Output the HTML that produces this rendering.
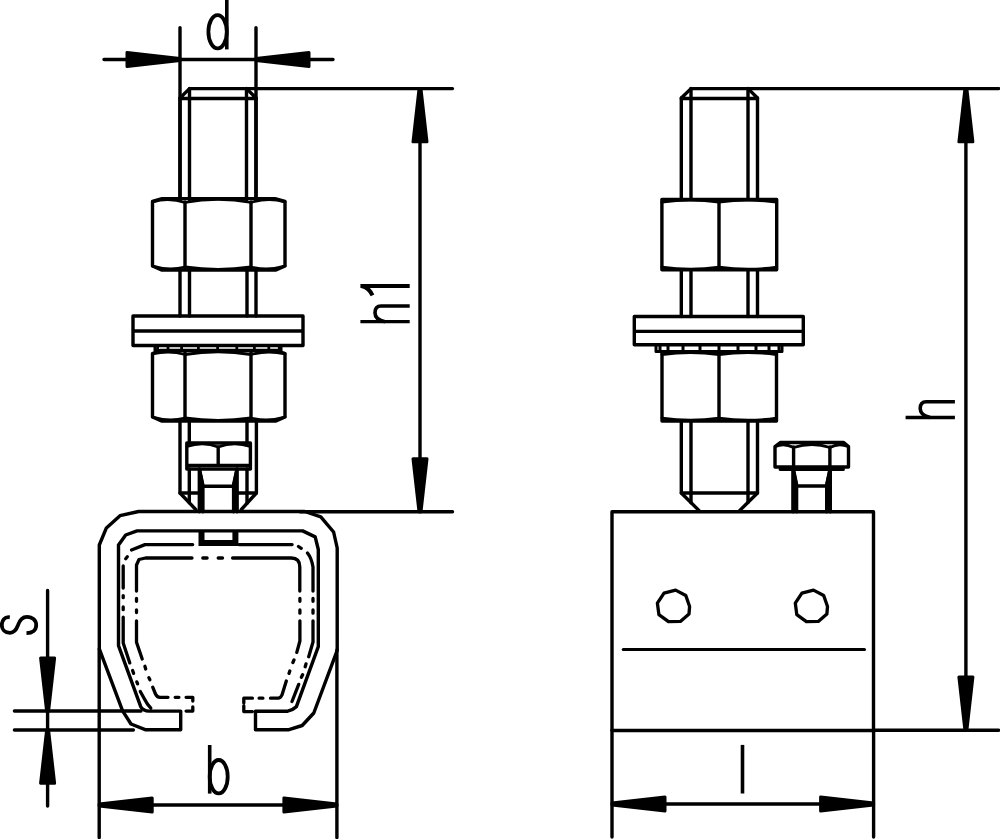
<!DOCTYPE html>
<html><head><meta charset="utf-8">
<style>
html,body{margin:0;padding:0;background:#fff;width:1000px;height:839px;overflow:hidden}
svg{display:block}
text{font-family:"Liberation Sans",sans-serif;font-size:68px;fill:#000}
</style></head>
<body>
<svg width="1000" height="839" viewBox="0 0 1000 839">
<defs>
  <path id="arr" d="M0,-1 L-53,-7 L-53,7 L0,1 Z" fill="#000" stroke="#000" stroke-width="3" stroke-linejoin="round"/>
</defs>
<g fill="none" stroke="#000" stroke-width="3.4" stroke-linecap="round" stroke-linejoin="round">

<!-- ============ LEFT VIEW ============ -->
<g id="bolt">
  <!-- rod top -->
  <path d="M189.5,88.6 L180,98 M246.5,88.6 L256,98 M180,98.5 H256"/>
  <path d="M189.5,88.6 V200 M246.5,88.6 V200 M180,98 V200 M256,98 V200"/>
  <!-- upper nut -->
  <path d="M152.5,201.5 L162,198.6 H275 L285,201.5 V266 L276,270 H161.5 L152.5,266 Z"/>
  <path d="M185,202 V268 M251,202 V268"/>
  <path d="M152.5,201.8 Q169,197 185,202.5 Q218,196 251,202.5 Q268,197 285,201.8" stroke-width="2.8"/>
  <path d="M152.5,266 Q169,271 185,267 Q218,272 251,267 Q268,271 285,266" stroke-width="2.8"/>
  <!-- rod between nut and washer -->
  <path d="M180,270 V316 M189.5,270 V316 M247,270 V316 M256,270 V316"/>
  <!-- washer -->
  <path d="M133,316 H303 V345.5 H133 Z M133,331 H303"/>
  <!-- lock washer -->
  <path d="M155,345.5 V350.5 H281 V345.5" stroke-width="3"/>
  <path d="M157.6,345.5 V350 M168,345.5 V350 M181.6,345.5 V350 M198.4,345.5 V350 M217.6,345.5 V350 M236.8,345.5 V350 M254.4,345.5 V350 M268.8,345.5 V350 M279.2,345.5 V350" stroke-width="2.8"/>
  <!-- lower nut -->
  <path d="M152.5,353.5 L160,350.5 H277 L285,353.5 V417 L276,421 H161.5 L152.5,417 Z"/>
  <path d="M185,352 V420 M251,352 V420"/>
  <path d="M152.5,354 Q169,350 185,354.5 Q218,349 251,354.5 Q268,350 285,354" stroke-width="2.8"/>
  <path d="M152.5,417 Q169,422 185,418 Q218,423 251,418 Q268,422 285,417" stroke-width="2.8"/>
  <!-- rod below nut -->
  <path d="M180,421 V493 L195.7,509.5 M256.4,421 V493 L241.4,509.5"/>
  <path d="M189.3,421 V443 M247,421 V443 M189.3,469 V502.8 M247,469 V503.3 M180,493 H199 M237.5,493 H256.4"/>
</g>
<!-- small bolt (left view) -->
<path d="M186.8,443 H250.4 V469 H186.8 Z M186.8,465.4 H250.4 M218.2,447 V465.4"/>
<path d="M187,446.5 Q203,441 218.2,447 Q234,441 250.2,446.5" stroke-width="2.8"/>
<path d="M199.4,469 V511.7 M237,469 V511.7 M199.4,469 L202.8,484.6 V511.7 M237,469 L233.6,484.6 V511.7 M202.8,486.2 H233.6" stroke-width="3.4"/>

<g fill="#000" stroke="none">
<path d="M197.9,469 H201 L204.2,484.6 V511.7 H197.9 Z M238.5,469 H235.4 L232.2,484.6 V511.7 H238.5 Z"/>
<path d="M791.4,469 H794.8 L798,484.6 V511.7 H791.4 Z M831.8,469 H828.4 L825.2,484.6 V511.7 H831.8 Z"/>
</g>
<!-- rail profile -->
<path d="M138.6,511.5 H304.8 L320.8,516.8 L333.6,532 L337.2,548 V650.3 L313.8,713 L302.2,725.5 L288.2,729.8 H255.5 V711.2 H287.7 Q293,710 296.3,706.8 L318.3,646.7 V549.5 L315.2,536.9 L302.6,530.9 H137 L125.7,535 L118.5,545 V645.7 L140.8,706.8 Q143.5,711 149,711.1 H180.7 V729.8 H145.8 L131,724 L122.6,710.8 L99.3,648.8 V545 L106.4,527.9 L120,515.7 Z"/>
<!-- slot -->
<path d="M201.5,531 V542.9 H235.4 V531" stroke-width="6" stroke-linecap="butt" stroke-linejoin="miter"/>
<!-- phantom lines -->
<g stroke-width="3.3" stroke-linecap="round">
<path d="M192.7,544.6 H145 L131.5,550 M127.3,556.8 L125.7,558.7 M123.2,566 V588 M123.2,595.6 L123.2,597.7 M123.2,606.9 L123.2,609.7 M123.2,617.2 V642.9 L129.8,662.9 M132.6,670.5 L133.6,673.4 M136.8,681.9 L137.6,683.9 M140.3,691.5 L144.6,699.2 Q147,704 150.8,708.2"/>
<path d="M238.9,544.6 H292.1 M298.5,546.5 L301.2,548.3 M307.5,553 Q311.5,558 313,567 V591 M313.0,598.5 L313.0,601.3 M313.0,609.9 L313.0,613.2 M313,620.8 V642 L308.7,656.7 M306.0,663.9 L305.2,666.7 M302.6,674.8 L301.4,677.3 M298.7,684.4 L292,701.5"/>
<path d="M192,558 H145.5 L139,559.5 L136.5,565 V591 M136.5,598.5 L136.5,601.3 M136.5,609.9 L136.5,612.6 M136.5,620.8 V642.2 L142.2,659 M144.9,666.3 L145.7,669.0 M148.8,677.6 L149.9,679.7 M152.7,687.2 L155.5,694 Q157,697.3 160,697.3 H168 M175.2,697.3 L178.9,697.3 M186.1,697.3 H192.8 V701 M192.8,706.8 V711.1 H186.1"/>
<path d="M202.8,558.0 L207.1,558.0 M218.2,558.0 L222.5,558.0 M232.6,558 H291.4 Q299.8,558 299.8,567 V591 M299.9,598.5 L299.9,601.3 M299.9,609.9 L299.9,613.2 M299.9,620.8 V641 L296.8,652.4 M294.0,659.9 L292.9,662.5 M289.8,671.0 L289.0,673.4 M286.3,681 L282,694.9 Q280.5,698.2 278.2,698.2 H270.5 M262.9,698.2 L259.1,698.2 M252.4,698.2 H243.8 V703 M243.8,705.8 V711.6 H252.4"/>
</g>

<!-- dimension d -->
<path d="M180,27.6 V200 M256,27.6 V200 M104,59.5 H333" stroke-width="3.4"/>
<!-- dimension h1 -->
<path d="M452.5,88.6 H189.5 M452.5,511.8 H300 M420,88.6 V512" stroke-width="3.4"/>
<!-- dimension s -->
<path d="M14.4,711 H141 M14.4,730 H133.4 M47.6,590.5 V806" stroke-width="3.4"/>
<!-- dimension b -->
<path d="M99.2,649 V837.5 M336.9,650 V837.5 M99,805 H337" stroke-width="3.4"/>

<!-- ============ RIGHT VIEW ============ -->
<g>
  <path d="M691,88.6 L681.3,98 M748,88.6 L757.5,98 M681.3,98.5 H757.5"/>
  <path d="M691,88.6 V199.5 M748,88.6 V199.5 M681.3,98 V199.5 M757.5,98 V199.5"/>
  <!-- upper nut across corners -->
  <path d="M661.9,199.5 H776.7 V269.8 H661.9 Z M719,200 V269.5"/>
  <path d="M661.9,202.2 Q690.5,198 719,202.2 Q748,198 776.7,202.2 M661.9,267.2 Q690.5,271.3 719,267.2 Q748,271.3 776.7,267.2" stroke-width="2.8"/>
  <path d="M681.3,269.8 V316.5 M691,269.8 V316.5 M748,269.8 V316.5 M757.5,269.8 V316.5"/>
  <!-- washer -->
  <path d="M634.3,316.5 H803.3 V344.8 H634.3 Z M634.3,331.4 H803.3"/>
  <path d="M656,345 V351.6 H782 V345" stroke-width="3"/>
  <path d="M660,345 V351 M668,345 V351 M683,345 V351 M700,345 V351 M719,345 V351 M738,345 V351 M756,345 V351 M769,345 V351 M779,345 V351" stroke-width="3"/>
  <!-- lower nut -->
  <path d="M662,352 H776.5 V421 H662 Z M719,352 V421"/>
  <path d="M662,354.5 Q690.5,350.5 719,354.5 Q748,350.5 776.5,354.5 M662,418.2 Q690.5,422.3 719,418.2 Q748,422.3 776.5,418.2" stroke-width="2.8"/>
  <!-- rod below -->
  <path d="M681.3,421 V493 L698.9,510.4 M757.5,421 V493 L739.8,510.4"/>
  <path d="M691,421 V502.7 M748,421 V502.5 M681.3,493 H757.5" />
</g>
<!-- right small bolt -->
<path d="M775,446.5 L780.3,442.5 H843.7 L848.5,446.5 V467 H775 Z M780.3,469.4 H843.2 M793.6,447 V467 M829.9,447 V467"/>
<path d="M775.5,446.5 Q784,442.5 793.6,447.5 Q812,441.5 829.9,447.5 Q839,442.5 848,446.5" stroke-width="2.8"/>
<path d="M793.2,469 V511.7 M830.3,469 V511.7 M793.4,469 L796.6,484.6 V511.7 M830.1,469 L826.7,484.6 V511.7 M796.6,486 H826.7" stroke-width="3.4"/>
<!-- block -->
<path d="M612,511.7 H873.5 V730.5 H612 Z"/>
<path d="M623.2,649.4 H864.5" stroke-width="3"/>
<path id="oct" d="M675.6,590.1 L685.8,595.5 L689.6,606.5 L689,614 L680.4,621.4 L668.5,621.7 L658.9,614.6 L657.4,603.2 L664,593.1 Z" stroke-width="3.3"/>
<path d="M813.5,590.1 L823.7,595.5 L827.5,606.5 L826.9,614 L818.3,621.4 L806.4,621.7 L796.8,614.6 L795.3,603.2 L801.9,593.1 Z" stroke-width="3.3"/>

<!-- dimension h -->
<path d="M690.8,88.6 H998.7 M873.5,730.3 H998.7 M965.9,88.6 V730.3" stroke-width="3.4"/>
<!-- dimension l -->
<path d="M612,730 V837 M873.6,730 V837 M612,804 H873.6" stroke-width="3.4"/>
</g>

<!-- arrows -->
<use href="#arr" transform="translate(180,59.5)"/>
<use href="#arr" transform="translate(256,59.5) rotate(180)"/>
<use href="#arr" transform="translate(420,88.8) rotate(-90)"/>
<use href="#arr" transform="translate(420,511.8) rotate(90)"/>
<use href="#arr" transform="translate(47.6,711) rotate(90)"/>
<use href="#arr" transform="translate(47.6,730.2) rotate(-90)"/>
<use href="#arr" transform="translate(99.2,805) rotate(180)"/>
<use href="#arr" transform="translate(336.9,805)"/>
<use href="#arr" transform="translate(965.9,88.8) rotate(-90)"/>
<use href="#arr" transform="translate(965.9,730.1) rotate(90)"/>
<use href="#arr" transform="translate(612,804) rotate(180)"/>
<use href="#arr" transform="translate(873.6,804)"/>

<!-- texts (stroked glyphs) -->
<g fill="none" stroke="#000" stroke-width="3.8" stroke-linecap="butt">
  <!-- d -->
  <ellipse cx="217.6" cy="31.75" rx="9.2" ry="16.6"/>
  <path d="M226.8,-2 V49.4" stroke-width="3.6"/>
  <!-- b -->
  <ellipse cx="218.7" cy="776.7" rx="9.0" ry="16.7"/>
  <path d="M209.7,745 V793.6" stroke-width="3.6"/>
  <!-- l -->
  <path d="M742.5,744.9 V793.5" stroke-width="3.6"/>
  <!-- h1 -->
  <g id="hglyph">
    <path d="M360.4,321.65 H409.7" stroke-width="3.4"/>
    <path d="M409.7,305.95 H381 C376.5,305.95 375,309 375,312.8 C375,317 378.5,320.5 385,321.65" stroke-width="3.6"/>
  </g>
  <path d="M360.4,285.9 H409.7" stroke-width="4"/>
  <path d="M361.5,286 C366,287 370,290 372.5,295.4" stroke-width="4"/>
  <!-- h -->
  <use href="#hglyph" transform="translate(545.2,95.8)"/>
  <!-- s -->
  <path d="M9.8,617.3 C4.5,616.5 1.8,620.5 1.8,625 C1.8,629.5 5,632.8 10,632.8 C14.5,632.8 16.5,629.5 18,625.2 C19.5,620.5 22,616.8 27,616.8 C32.5,616.8 36.2,620.5 36.2,625.2 C36.2,630 32.5,633 26.5,633.2"/>
</g>
</svg>
</body></html>
